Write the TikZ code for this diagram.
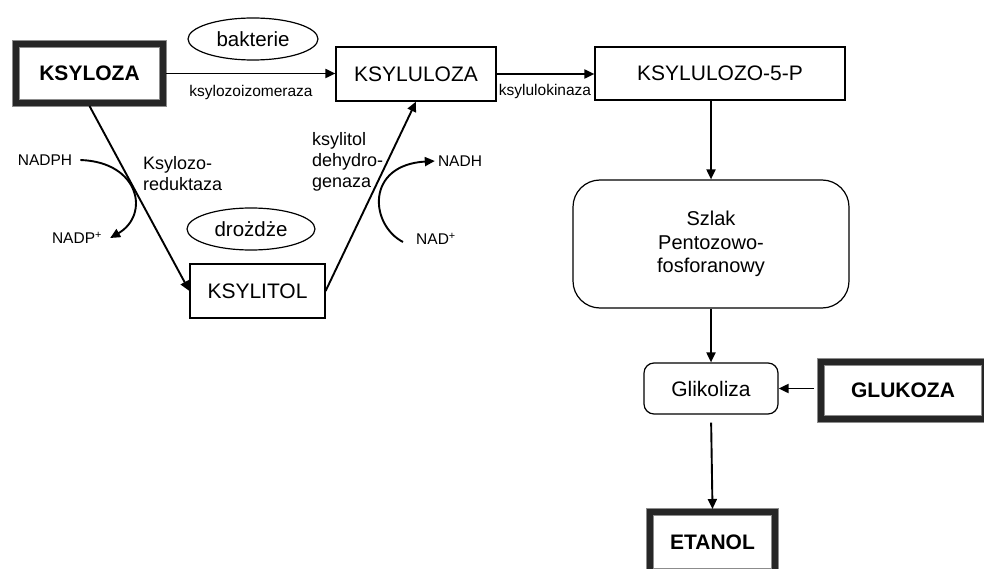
\documentclass[tikz,border=0pt]{standalone}
\usepackage{fontspec}
\setmainfont{Liberation Sans}
\usepackage{tikz}
\usetikzlibrary{arrows.meta,shapes.geometric}

\begin{document}
\begin{tikzpicture}[x=1pt,y=-1pt,
  box/.style={draw,line width=1.2pt,inner sep=0pt,font=\fontsize{21}{25}\selectfont},
  heavybox/.style={draw=black!85,line width=6pt,preaction={draw=black!45,line width=8pt},inner sep=0pt,font=\fontsize{21}{25}\selectfont\bfseries},
  roundbox/.style={box,rounded corners=#1},
  enzym/.style={font=\fontsize{15.5}{18}\selectfont,inner sep=1pt},
  cofactor/.style={font=\fontsize{15.5}{18}\selectfont,inner sep=3pt},
  enzymtwo/.style={font=\fontsize{18}{21}\selectfont,align=left,anchor=west,inner sep=3pt},
  org/.style={draw,ellipse,line width=1.2pt,minimum width=130pt,minimum height=42pt,inner sep=0pt,font=\fontsize{20.5}{24}\selectfont},
  arr/.style={line width=1.9pt,-{Triangle[length=10pt,width=9pt]}}]
\useasboundingbox (0,0) rectangle (984,569);
\clip (0,0) rectangle (984,569);

% sugars and pathway
\node[heavybox,minimum width=147pt,minimum height=59pt] (ksyloza) at (89.5,73.5) {KSYLOZA};
\node[box,minimum width=160pt,minimum height=54pt] (ksyluloza) at (416,74) {KSYLULOZA};
\node[box,minimum width=250pt,minimum height=53pt] (ksylulozo) at (720,73.5) {KSYLULOZO-5-P};
\node[box,minimum width=135pt,minimum height=54pt] (ksylitol) at (257.5,291) {KSYLITOL};
\node[roundbox=27pt,minimum width=276pt,minimum height=128pt,align=center,font=\fontsize{20}{23.5}\selectfont] (szlak) at (711,244) {Szlak\\Pentozowo-\\fosforanowy};
\node[roundbox=10pt,minimum width=134pt,minimum height=51pt] (glikoliza) at (711,388.5) {Glikoliza};
\node[heavybox,minimum width=164pt,minimum height=57pt] (glukoza) at (903,390.5) {GLUKOZA};
\node[heavybox,minimum width=125pt,minimum height=60pt] (etanol) at (712.5,542) {ETANOL};

% organisms
\node[org] (bakterie) at (253,39) {bakterie};
\node[org,minimum width=128pt] (drozdze) at (251,229) {drożdże};

% enzymes and cofactors
\node[enzym] (izomeraza) at (251,92) {ksylozoizomeraza};
\node[enzym] (kinaza) at (545,91) {ksylulokinaza};
\node[enzymtwo] (reduktaza) at (140,174) {Ksylozo-\\reduktaza};
\node[enzymtwo] (dehydrogenaza) at (309,162) {ksylitol\\dehydro-\\genaza};
\node[cofactor] (nadph) at (45,160) {NADPH};
\node[cofactor] (nadp) at (77,238) {NADP\textsuperscript{+}};
\node[cofactor] (nadh) at (460,161) {NADH};
\node[cofactor] (nad) at (436,239) {NAD\textsuperscript{+}};

% arrows
\draw[arr] (ksyloza.east) -- (ksyloza.east -| ksyluloza.west);
\draw[arr] (ksyluloza.east) -- (ksyluloza.east -| ksylulozo.west);
\draw[arr] (ksylulozo.south -| szlak.north) -- (szlak.north);
\draw[arr] (szlak.south) -- (glikoliza.north);
\draw[arr,shorten <=4pt] (glukoza.west |- glikoliza.east) -- (glikoliza.east);
\draw[arr,shorten <=8pt] (glikoliza.south) -- (etanol.north);
\draw[arr] (ksyloza.south) -- (ksylitol.west);
\draw[arr] (ksylitol.east) -- (ksyluloza.south);
\draw[arr] ([xshift=5pt]nadph.east) .. controls (140,162) and (150,215) .. ([xshift=5pt]nadp.east);
\draw[arr] ([xshift=-10pt,yshift=-3pt]nad.west) .. controls (370,225) and (365,165) .. (nadh.west);
\end{tikzpicture}
\end{document}
